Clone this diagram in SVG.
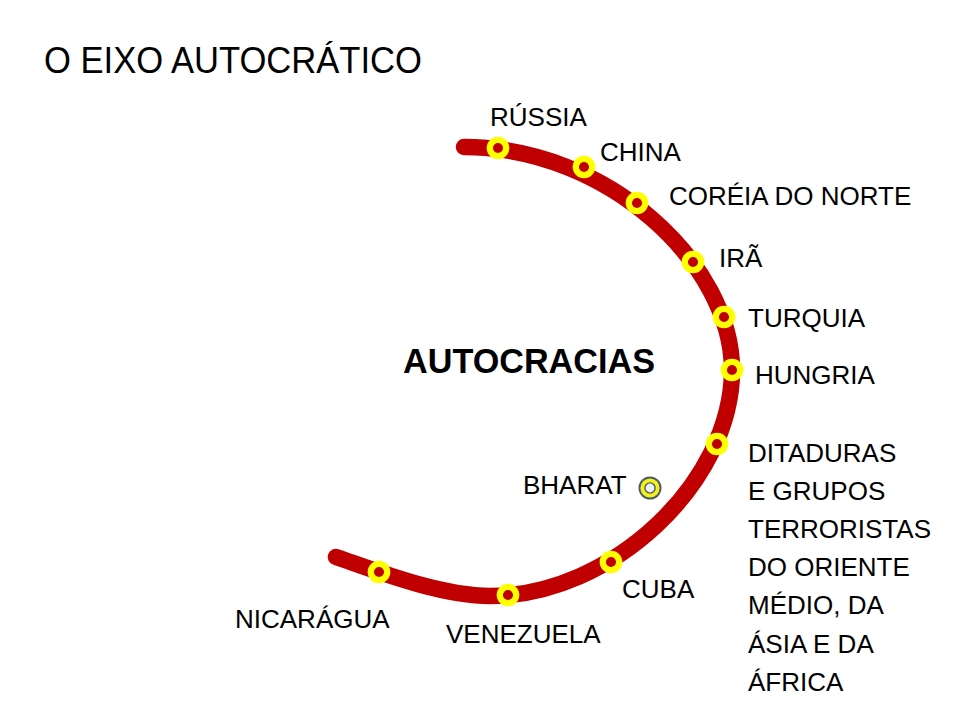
<svg xmlns="http://www.w3.org/2000/svg" width="960" height="720" viewBox="0 0 960 720">
<style>
text{font-family:"Liberation Sans",Arial,sans-serif;fill:#000;font-size:26px}
.title{font-size:37px}
.bold{font-weight:bold;font-size:35px}
.dot{fill:#c00000;stroke:#ffff00;stroke-width:6.3}
.arc{fill:none;stroke:#c00000;stroke-width:16.5;stroke-linecap:round}
</style>
<rect width="960" height="720" fill="#fff"/>
<text class="title" x="44" y="73" textLength="378" lengthAdjust="spacingAndGlyphs">O EIXO AUTOCRÁTICO</text>
<g id="connectors">
<path class="arc" d="M464,147 C609,147 732,265 732,370 C732,482 612,596 490,596 C440,596 374,570 336,557"/>
</g>
<g id="center-label"><text class="bold" x="403" y="373" textLength="252" lengthAdjust="spacingAndGlyphs">AUTOCRACIAS</text></g>
<g id="russia"><circle class="dot" cx="498" cy="148" r="8.2"/><text x="490" y="126">RÚSSIA</text></g>
<g id="china"><circle class="dot" cx="584" cy="167" r="8.2"/><text x="600" y="161">CHINA</text></g>
<g id="coreia"><circle class="dot" cx="637" cy="203" r="8.2"/><text x="669" y="205">CORÉIA DO NORTE</text></g>
<g id="ira"><circle class="dot" cx="693" cy="262" r="8.2"/><text x="719" y="267">IRÃ</text></g>
<g id="turquia"><circle class="dot" cx="724" cy="317" r="8.2"/><text x="748" y="327">TURQUIA</text></g>
<g id="hungria"><circle class="dot" cx="732" cy="370" r="8.2"/><text x="755" y="384">HUNGRIA</text></g>
<g id="ditaduras"><circle class="dot" cx="717" cy="444" r="8.2"/>
<text x="748" y="462">DITADURAS</text>
<text x="748" y="500">E GRUPOS</text>
<text x="748" y="538">TERRORISTAS</text>
<text x="748" y="576">DO ORIENTE</text>
<text x="748" y="614">MÉDIO, DA</text>
<text x="748" y="653">ÁSIA E DA</text>
<text x="748" y="691">ÁFRICA</text>
</g>
<g id="bharat">
<circle cx="650" cy="488" r="11.5" fill="#4d5a68"/>
<circle cx="650" cy="488" r="9.6" fill="#f2f21a"/>
<circle cx="650" cy="488" r="5.8" fill="#4d5a68"/>
<circle cx="650" cy="488" r="4.4" fill="#eef2f6"/>
<text x="523" y="494">BHARAT</text>
</g>
<g id="cuba"><circle class="dot" cx="611" cy="562" r="8.2"/><text x="622" y="598">CUBA</text></g>
<g id="venezuela"><circle class="dot" cx="508" cy="595" r="8.2"/><text x="446" y="643">VENEZUELA</text></g>
<g id="nicaragua"><circle class="dot" cx="379" cy="572" r="8.2"/><text x="235" y="628">NICARÁGUA</text></g>
</svg>
